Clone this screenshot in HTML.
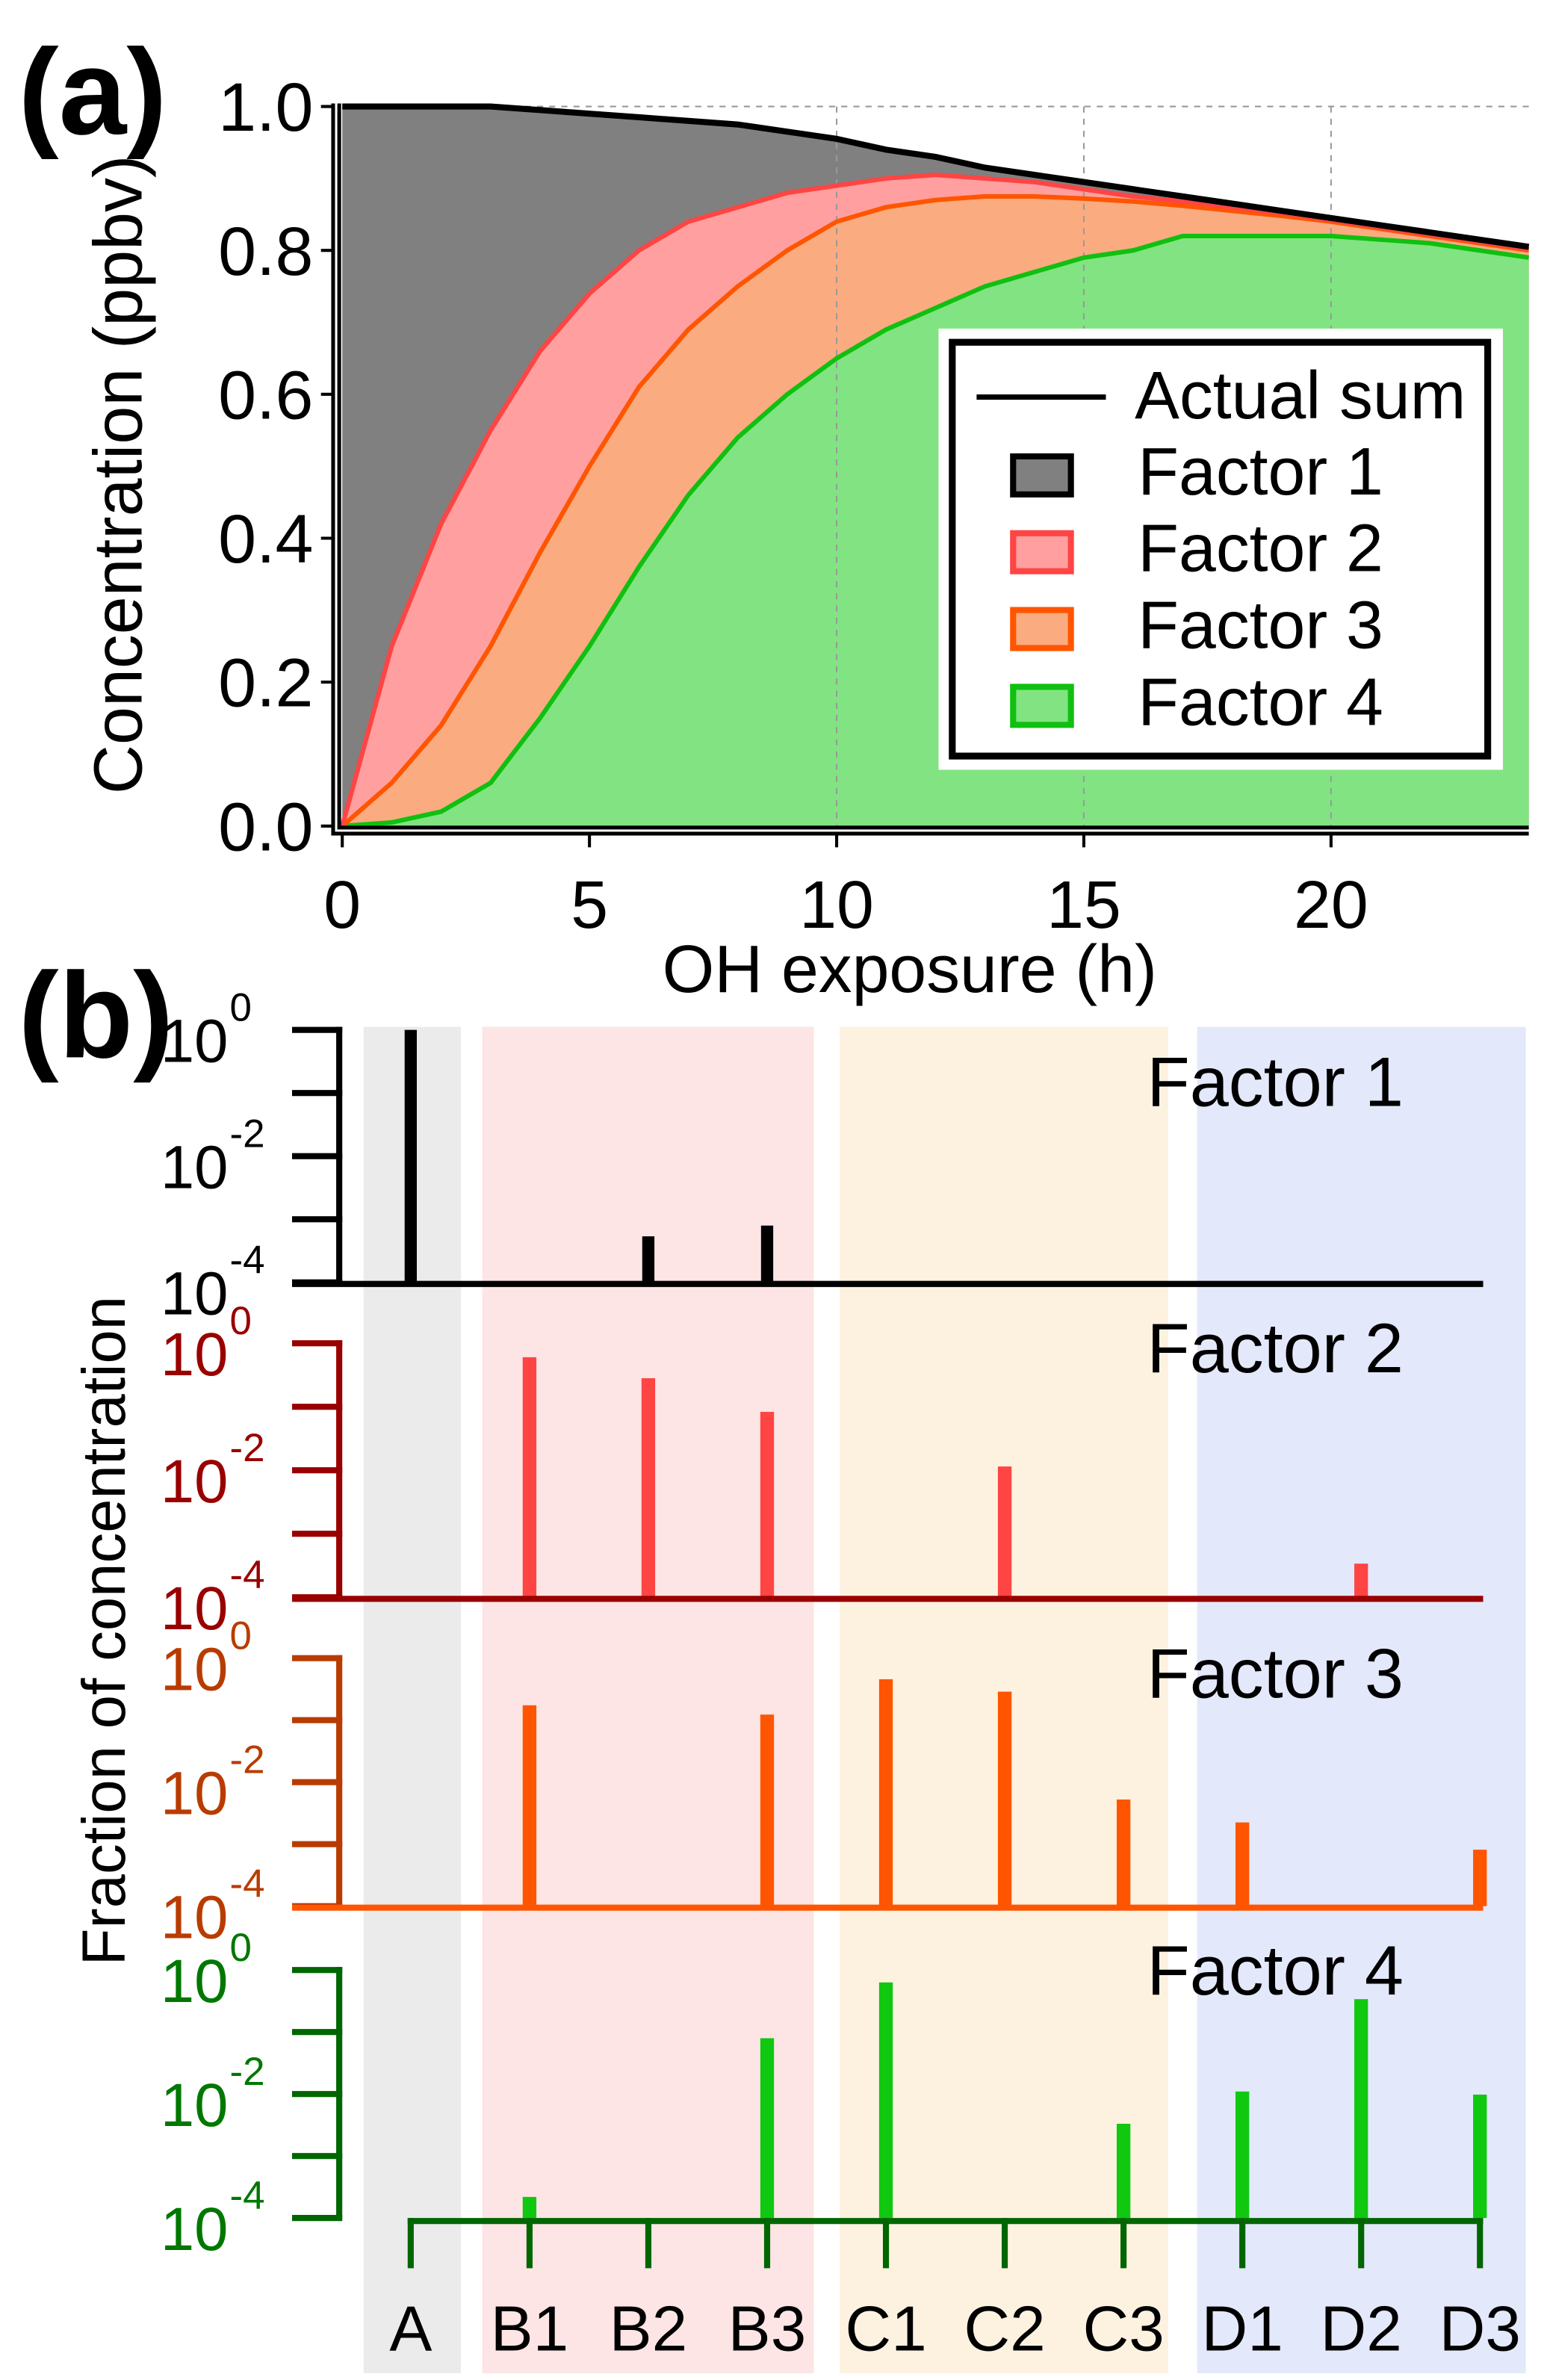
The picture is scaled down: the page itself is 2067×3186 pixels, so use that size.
<!DOCTYPE html>
<html><head><meta charset="utf-8"><style>
html,body{margin:0;padding:0;background:#fff;}
svg{display:block;font-family:"Liberation Sans",Arial,sans-serif;}
</style></head><body>
<svg id="fig" width="2067" height="3186" viewBox="0 0 1015 1564.5" xmlns="http://www.w3.org/2000/svg">
<g id="pa"></g>
<g id="pb"></g>
</svg>
<script>
// ---------- Panel (a) data ----------
const hours = [0,1,2,3,4,5,6,7,8,9,10,11,12,13,14,15,16,17,18,19,20,21,22,23,24];
const actualSum = [1.0,1.0,1.0,1.0,0.995,0.99,0.985,0.98,0.975,0.965,0.955,0.94,0.93,0.915,0.905,0.895,0.885,0.875,0.865,0.855,0.845,0.835,0.825,0.815,0.805];
const cumF2 = [0,0.25,0.42,0.55,0.66,0.74,0.8,0.84,0.86,0.88,0.89,0.9,0.905,0.9,0.895,0.885,0.875,0.868,0.86,0.852,0.842,0.832,0.822,0.812,0.802];
const cumF3 = [0,0.06,0.14,0.25,0.38,0.5,0.61,0.69,0.75,0.8,0.84,0.86,0.87,0.875,0.875,0.872,0.868,0.862,0.855,0.848,0.84,0.83,0.82,0.81,0.8];
const cumF4 = [0,0.005,0.02,0.06,0.15,0.25,0.36,0.46,0.54,0.6,0.65,0.69,0.72,0.75,0.77,0.79,0.8,0.82,0.82,0.82,0.82,0.815,0.81,0.8,0.79];
const xTicksA = [0,5,10,15,20];
const yTicksA = ["0.0","0.2","0.4","0.6","0.8","1.0"];
// ---------- Panel (b) data ----------
const categories = ["A","B1","B2","B3","C1","C2","C3","D1","D2","D3"];
const f1Log = [0,null,-3.27,-3.1,null,null,null,null,null,null];
const f2Log = [null,-0.22,-0.55,-1.08,null,-1.94,null,null,-3.47,null];
const f3Log = [null,-0.76,null,-0.91,-0.34,-0.54,-2.28,-2.65,null,-3.09];
const f4Log = [null,-3.66,null,-1.1,-0.2,null,-2.48,-1.96,-0.47,-2.01];
const logTicks = [0,-1,-2,-3,-4];

const NS="http://www.w3.org/2000/svg";
function mk(parent,tag,attrs,text){const e=document.createElementNS(NS,tag);for(const k in attrs)e.setAttribute(k,attrs[k]);if(text!==undefined)e.textContent=text;parent.appendChild(e);return e;}

// ---- Panel a ----
const pa=document.getElementById('pa');
const xA=v=>225+v*32.5, yA=v=>543-v*473;
function areaPath(arr){let d="M"+xA(0)+","+yA(0);hours.forEach((h,i)=>{d+=" L"+xA(h)+","+yA(arr[i]);});d+=" L"+xA(24)+","+yA(0)+" Z";return d;}
function linePath(arr){return hours.map((h,i)=>(i?"L":"M")+xA(h)+","+yA(arr[i])).join(" ");}
let e;
e=mk(pa,'path',{d:areaPath(actualSum),fill:'#808080'});

e=mk(pa,'path',{d:areaPath(cumF2),fill:'#ff9f9f'});

e=mk(pa,'path',{d:areaPath(cumF3),fill:'#fbab80'});

e=mk(pa,'path',{d:areaPath(cumF4),fill:'#82e382'});

[10,15,20].forEach(v=>{e=mk(pa,'line',{x1:xA(v),x2:xA(v),y1:yA(1),y2:yA(0),stroke:'#999','stroke-width':1,'stroke-dasharray':'4,4'});
});
e=mk(pa,'line',{x1:xA(0),x2:1005,y1:yA(1),y2:yA(1),stroke:'#999','stroke-width':1,'stroke-dasharray':'4,4'});

e=mk(pa,'path',{d:linePath(cumF4),fill:'none',stroke:'#10c010','stroke-width':3});

e=mk(pa,'path',{d:linePath(cumF3),fill:'none',stroke:'#ff5500','stroke-width':3});

e=mk(pa,'path',{d:linePath(cumF2),fill:'none',stroke:'#ff4444','stroke-width':3});

e=mk(pa,'path',{d:linePath(actualSum),fill:'none',stroke:'#000','stroke-width':4});

e=mk(pa,'path',{d:"M219,68 V548 H1005 M223,68 V544 H1005",fill:'none',stroke:'#000','stroke-width':2.5});

yTicksA.forEach((t,i)=>{const y=yA(i*0.2);
e=mk(pa,'line',{x1:211,x2:219,y1:y,y2:y,stroke:'#000','stroke-width':2});

e=mk(pa,'text',{x:206,y:y+16,'text-anchor':'end','font-size':45},t);
});
xTicksA.forEach(v=>{
e=mk(pa,'line',{x1:xA(v),x2:xA(v),y1:548,y2:557,stroke:'#000','stroke-width':2});

e=mk(pa,'text',{x:xA(v),y:610,'text-anchor':'middle','font-size':44},String(v));
});
e=mk(pa,'text',{x:598,y:652,'text-anchor':'middle','font-size':44},'OH exposure (h)');

e=mk(pa,'text',{x:0,y:0,'text-anchor':'middle','font-size':45,transform:'translate(93,312) rotate(-90)'},'Concentration (ppbv)');

e=mk(pa,'text',{x:12,y:88,'font-size':80,'font-weight':'bold'},'(a)');

e=mk(pa,'rect',{x:617,y:216,width:371,height:290,fill:'#fff'});

e=mk(pa,'rect',{x:626,y:225,width:352,height:272,fill:'#fff',stroke:'#000','stroke-width':4.5});

e=mk(pa,'line',{x1:642,x2:727,y1:261,y2:261,stroke:'#000','stroke-width':3.5});

e=mk(pa,'text',{x:746,y:275,'font-size':44},'Actual sum');

const legF=[['#808080','#000'],['#ff9f9f','#ff4444'],['#fbab80','#ff5500'],['#82e382','#10c010']];
legF.forEach((c,i)=>{const by=325+i*50.5;
e=mk(pa,'rect',{x:666,y:by-25,width:38,height:25,fill:c[0],stroke:c[1],'stroke-width':4});

e=mk(pa,'text',{x:748,y:by,'font-size':44},'Factor '+(i+1));
});

// ---- Panel b ----
const pb=document.getElementById('pb');
const xB=i=>270+i*78.1;
const bands=[[239,303,'#ebebeb'],[317,535,'#fce5e4'],[552,768,'#fdf2e0'],[787,1003,'#e3e8fa']];
bands.forEach((b,i)=>{e=mk(pb,'rect',{x:b[0],y:675,width:b[1]-b[0],height:885,fill:b[2]});
});
const panels=[
 {top:677,bot:843,axis:'#000',lab:'#000',base:'#000',bar:'#000',vals:f1Log,name:'Factor 1',ty:727,bw:8},
 {top:883,bot:1050,axis:'#990000',lab:'#990000',base:'#990000',bar:'#ff4444',vals:f2Log,name:'Factor 2',ty:902,bw:9},
 {top:1090,bot:1253,axis:'#b83c00',lab:'#b83c00',base:'#ff5500',bar:'#ff5500',vals:f3Log,name:'Factor 3',ty:1116,bw:9},
 {top:1295,bot:1458,axis:'#006600',lab:'#007700',base:'#006600',bar:'#10c810',vals:f4Log,name:'Factor 4',ty:1311,bw:9}];
panels.forEach((p,pi)=>{
 const g=mk(pb,'g',{});
 
 const yL=v=>p.top+(-v)*(p.bot-p.top)/4;
 p.vals.forEach((v,i)=>{if(v===null)return;
  e=mk(g,'rect',{x:xB(i)-p.bw/2,y:yL(v),width:p.bw,height:p.bot-yL(v),fill:p.bar});
  });
 e=mk(g,'line',{x1:223,x2:223,y1:p.top-2,y2:p.bot,stroke:p.axis,'stroke-width':4});
 
 logTicks.forEach(t=>{const y=yL(t);
  e=mk(g,'line',{x1:192,x2:225,y1:y,y2:y,stroke:p.axis,'stroke-width':4});
  
  if(t%2===0){
   e=mk(g,'text',{x:150,y:y+21,'text-anchor':'end','font-size':40,fill:p.lab},'10');
   
   e=mk(g,'text',{x:151,y:y-6,'font-size':26,fill:p.lab},String(t));
   }});
 if(pi<3){e=mk(g,'line',{x1:192,x2:975,y1:p.bot+1,y2:p.bot+1,stroke:p.base,'stroke-width':4});
  }
 e=mk(g,'text',{x:754,y:p.ty,'font-size':46},p.name);
 
});
e=mk(pb,'line',{x1:268,x2:975,y1:1460,y2:1460,stroke:'#006600','stroke-width':4});

categories.forEach((c,i)=>{
 e=mk(pb,'line',{x1:xB(i),x2:xB(i),y1:1458,y2:1491,stroke:'#006600','stroke-width':4});
 
 e=mk(pb,'text',{x:xB(i),y:1545,'text-anchor':'middle','font-size':42},c);
 });
e=mk(pb,'text',{x:0,y:0,'text-anchor':'middle','font-size':40,transform:'translate(82,1072) rotate(-90)'},'Fraction of concentration');

e=mk(pb,'text',{x:12,y:695,'font-size':80,'font-weight':'bold'},'(b)');

</script>
</body></html>
